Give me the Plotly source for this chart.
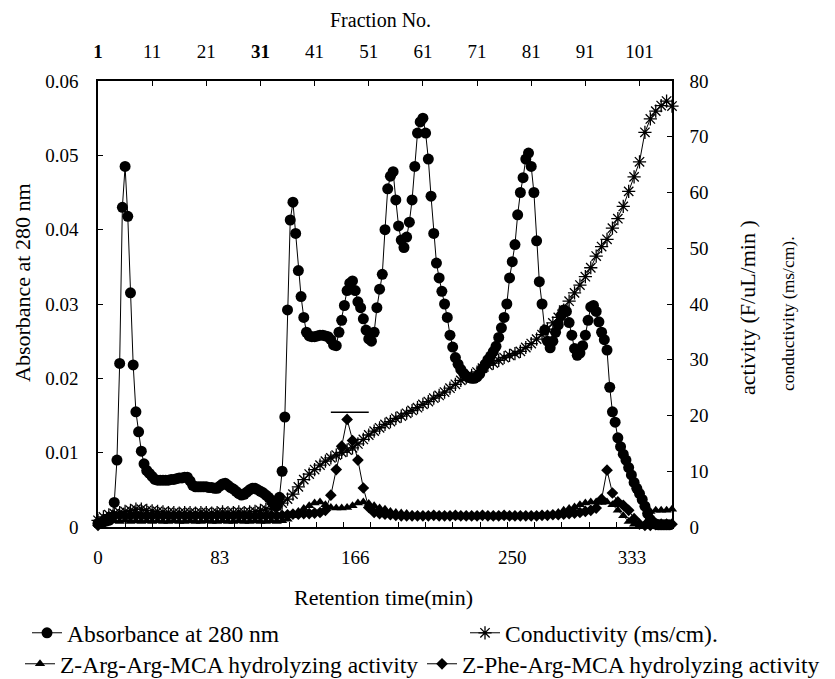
import numpy as np
import plotly.graph_objects as go

# ---------------- data ----------------
fraction_range = [1, 107]

# absorbance samples every half fraction
abs_x = np.arange(1, 107, 0.5)
absorbance = [
    0.0005, 0.0006, 0.0007, 0.0008, 0.0009, 0.0013, 0.0033, 0.0090, 0.0220, 0.0430,
    0.0485, 0.0418, 0.0315, 0.0218, 0.0155, 0.0128, 0.0102, 0.0085, 0.0076, 0.0072,
    0.0068, 0.0064, 0.0063, 0.0063, 0.0063, 0.0063, 0.0063, 0.0064, 0.0064, 0.0065,
    0.0066, 0.0066, 0.0067, 0.0067, 0.0062, 0.0056, 0.0054, 0.0054, 0.0054, 0.0054,
    0.0054, 0.0053, 0.0053, 0.0052, 0.0052, 0.0055, 0.0058, 0.0059, 0.0056, 0.0053,
    0.0051, 0.0048, 0.0045, 0.0043, 0.0044, 0.0047, 0.0050, 0.0052, 0.0052, 0.0050,
    0.0048, 0.0046, 0.0043, 0.0040, 0.0036, 0.0032, 0.0028, 0.0040, 0.0075, 0.0148,
    0.0292, 0.0413, 0.0437, 0.0395, 0.0345, 0.0310, 0.0282, 0.0262, 0.0257, 0.0256,
    0.0256, 0.0257, 0.0258, 0.0258, 0.0257, 0.0256, 0.0252, 0.0245, 0.0244, 0.0262,
    0.0278, 0.0298, 0.0318, 0.0328, 0.0331, 0.0318, 0.0303, 0.0295, 0.0280, 0.0265,
    0.0253, 0.0250, 0.0262, 0.0295, 0.0320, 0.0340, 0.0400, 0.0455, 0.0472, 0.0478,
    0.0440, 0.0405, 0.0386, 0.0376, 0.0390, 0.0410, 0.0440, 0.0485, 0.0530, 0.0545,
    0.0550, 0.0530, 0.0495, 0.0445, 0.0395, 0.0355, 0.0335, 0.0317, 0.0300, 0.0282,
    0.0258, 0.0242, 0.0228, 0.0219, 0.0212, 0.0207, 0.0203, 0.0201, 0.0200, 0.0200,
    0.0202, 0.0206, 0.0213, 0.0219, 0.0225, 0.0230, 0.0236, 0.0243, 0.0255, 0.0268,
    0.0282, 0.0300, 0.0335, 0.0357, 0.0380, 0.0420, 0.0450, 0.0470, 0.0495, 0.0503,
    0.0485, 0.0450, 0.0385, 0.0330, 0.0300, 0.0265, 0.0250, 0.0241, 0.0250, 0.0262,
    0.0272, 0.0284, 0.0292, 0.0290, 0.0275, 0.0258, 0.0240, 0.0231, 0.0234, 0.0244,
    0.0258, 0.0278, 0.0296, 0.0298, 0.0290, 0.0276, 0.0262, 0.0252, 0.0238, 0.0188,
    0.0155, 0.0141, 0.0120, 0.0108, 0.0098, 0.0090, 0.0080, 0.0070, 0.0060, 0.0052,
    0.0045, 0.0037, 0.0028, 0.0018, 0.0010, 0.0006, 0.0004, 0.0003, 0.0003, 0.0003,
    0.0003, 0.0003,
]

# one sample per fraction for conductivity and activities
fractions = np.arange(1, 108)
conductivity = [
    1.2, 1.8, 2.2, 2.4, 2.6, 2.8, 3.0, 3.2, 3.2, 3.0,
    2.9, 2.8, 2.7, 2.6, 2.6, 2.5, 2.6, 2.6, 2.5, 2.6,
    2.6, 2.5, 2.6, 2.7, 2.6, 2.6, 2.7, 2.6, 2.7, 2.8,
    3.0, 3.2, 3.4, 3.8, 4.3, 5.0, 5.9, 7.2, 8.5, 9.5,
    10.3, 11.1, 11.8, 12.4, 12.9, 13.4, 13.8, 14.2, 14.9, 15.7,
    16.5, 17.2, 17.8, 18.4, 18.9, 19.5, 19.9, 20.4, 20.9, 21.4,
    22.0, 22.5, 23.1, 23.6, 24.2, 24.9, 25.6, 26.3, 26.8, 27.2,
    27.8, 28.5, 29.0, 29.4, 29.9, 30.4, 30.8, 31.1, 31.5, 32.2,
    32.9, 33.7, 34.5, 35.5, 36.6, 37.6, 38.9, 40.5, 42.0, 43.4,
    44.9, 46.5, 48.6, 50.3, 51.6, 53.6, 55.3, 57.5, 60.2, 62.8,
    65.5, 70.8, 73.2, 74.6, 75.6, 76.4, 75.5,
]
arg_arg_activity = [
    0.5, 0.8, 1.0, 1.1, 1.0, 1.2, 1.0, 1.1, 1.0, 1.1,
    1.0, 1.1, 1.0, 1.0, 1.1, 1.0, 1.0, 1.1, 1.0, 1.0,
    1.1, 1.0, 1.0, 1.1, 1.0, 1.0, 1.1, 1.0, 1.0, 1.1,
    1.0, 1.0, 1.1, 1.0, 1.1, 1.4, 2.0, 2.8, 3.3, 3.8,
    4.3, 4.5, 4.0, 3.5, 3.4, 3.4, 3.5, 3.8, 4.3, 4.5,
    4.2, 3.8, 3.4, 3.2, 2.8, 2.6, 2.5, 2.4, 2.2, 2.1,
    2.0, 2.0, 1.9, 1.9, 2.0, 1.9, 1.8, 1.8, 1.9, 1.8,
    1.8, 1.9, 2.0, 1.8, 1.8, 1.9, 1.8, 1.8, 1.9, 2.0,
    2.0, 1.9, 2.0, 2.1, 2.3, 2.6, 3.0, 3.3, 3.6, 4.0,
    4.3, 4.5, 4.5, 4.4, 4.5, 4.0, 3.0, 2.0, 1.0, 0.5,
    0.3, 0.5, 2.8, 3.0, 3.0, 3.0, 3.2,
]
phe_arg_activity = [
    0.3, 0.8, 1.8, 2.0, 2.1, 2.0, 2.0, 2.1, 2.0, 2.0,
    2.0, 2.1, 2.0, 2.0, 2.0, 2.1, 2.0, 2.0, 2.0, 2.1,
    2.0, 2.0, 2.1, 2.0, 2.0, 2.0, 2.1, 2.0, 2.0, 2.0,
    2.0, 2.0, 2.1, 2.0, 2.1, 2.2, 2.3, 2.3, 2.4, 2.4,
    2.5, 2.6, 3.0, 5.7, 10.3, 14.5, 19.3, 15.5, 12.0, 7.0,
    3.5, 2.6, 2.4, 2.3, 2.2, 2.1, 2.0, 2.0, 2.0, 2.0,
    2.0, 2.0, 2.1, 2.0, 2.0, 2.0, 2.1, 2.0, 2.0, 2.0,
    2.0, 2.1, 2.0, 2.0, 2.0, 2.1, 2.0, 2.0, 2.0, 2.0,
    2.0, 2.0, 2.1, 2.1, 2.2, 2.2, 2.3, 2.4, 2.5, 2.6,
    2.8, 3.0, 3.4, 5.0, 10.2, 6.1, 4.5, 3.9, 3.0, 1.5,
    0.5, 0.3, 0.3, 0.4, 0.5, 0.5, 0.5,
]

top_tick_fractions = [1, 11, 21, 31, 41, 51, 61, 71, 81, 91, 101]
top_tick_text = ["<b>1</b>", "11", "21", "<b>31</b>", "41", "51", "61", "71", "81", "91", "101"]
bottom_label_fractions = [1, 23.5, 48.5, 77.5, 99.6]
bottom_label_text = ["0", "83", "166", "250", "333"]
pooled_fractions = [44, 51]
pooled_activity_level = 20.6

# ---------------- layout helpers ----------------
W, H = 835, 679
L, R, T, B = 98, 672, 81, 527
FONT = "Liberation Serif"


def px(xp):
    return (xp - L) / (R - L)


def py(yp):
    return (B - yp) / (B - T)


fig = go.Figure()

fig.add_trace(go.Scatter(
    x=fractions, y=arg_arg_activity, name="Z-Arg-Arg-MCA hydrolyzing activity",
    mode="lines+markers", xaxis="x", yaxis="y", legend="legend3", cliponaxis=False,
    line=dict(color="black", width=1),
    marker=dict(symbol="triangle-up", size=9, color="black"),
))
fig.add_trace(go.Scatter(
    x=fractions, y=phe_arg_activity, name="Z-Phe-Arg-MCA hydrolyzing activity",
    mode="lines+markers", xaxis="x", yaxis="y", legend="legend4", cliponaxis=False,
    line=dict(color="black", width=1),
    marker=dict(symbol="diamond", size=9, color="black"),
))
fig.add_trace(go.Scatter(
    x=fractions, y=conductivity, name="Conductivity (ms/cm).",
    mode="lines+markers", xaxis="x", yaxis="y", legend="legend2", cliponaxis=False,
    line=dict(color="black", width=1),
    marker=dict(symbol="asterisk-open", size=11, color="black",
                line=dict(color="black", width=1.3)),
))
fig.add_trace(go.Scatter(
    x=abs_x, y=absorbance, name="Absorbance at 280 nm",
    mode="lines+markers", xaxis="x2", yaxis="y2", legend="legend", cliponaxis=False,
    line=dict(color="black", width=1),
    marker=dict(symbol="circle", size=11, color="black"),
))

fig.add_shape(type="line", xref="x", yref="y",
              x0=pooled_fractions[0], x1=pooled_fractions[1],
              y0=pooled_activity_level, y1=pooled_activity_level,
              line=dict(color="black", width=1.5))

axis_common = dict(showgrid=False, zeroline=False, showline=True, linecolor="black",
                   linewidth=1.5, tickcolor="black", tickfont=dict(family=FONT, size=19, color="black"))

legend_common = dict(bgcolor="rgba(0,0,0,0)", borderwidth=0, xanchor="left", yanchor="middle",
                     font=dict(family=FONT, size=23.5, color="black"), itemwidth=30)

fig.update_layout(
    width=W, height=H, autosize=False,
    margin=dict(l=L, r=W - R, t=T, b=H - B, autoexpand=False),
    paper_bgcolor="white", plot_bgcolor="white",
    font=dict(family=FONT, color="black"),
    xaxis=dict(**axis_common, range=fraction_range, anchor="y", side="bottom",
               tickmode="array", tickvals=bottom_label_fractions, ticktext=bottom_label_text,
               ticks="", ticklabelstandoff=12, layer="below traces",
               minor=dict(ticks="inside", ticklen=5, tickcolor="black", tickmode="linear",
                          tick0=1, dtick=5.04)),
    xaxis2=dict(**axis_common, range=fraction_range, overlaying="x", anchor="y", side="top",
                tickmode="array", tickvals=top_tick_fractions, ticktext=top_tick_text,
                ticks="inside", ticklen=5, ticklabelstandoff=14, layer="below traces"),
    yaxis=dict(**axis_common, range=[0, 80], side="right", anchor="x",
               tickmode="linear", tick0=0, dtick=10, ticks="inside", ticklen=5,
               ticklabelstandoff=12, layer="below traces"),
    yaxis2=dict(**axis_common, range=[0, 0.06], overlaying="y", side="left", anchor="x",
                tickmode="linear", tick0=0, dtick=0.01, ticks="inside", ticklen=5,
                ticklabelstandoff=14, layer="below traces"),
    legend=dict(**legend_common, x=px(27), y=py(633)),
    legend2=dict(**legend_common, x=px(465), y=py(633)),
    legend3=dict(**legend_common, x=px(20), y=py(664)),
    legend4=dict(**legend_common, x=px(422), y=py(664)),
    showlegend=True,
)

annotations = [
    dict(text="Fraction No.", x=px(380), y=py(20), font=dict(size=20)),
    dict(text="Retention time(min)", x=px(383), y=py(597), font=dict(size=22)),
    dict(text="Absorbance at 280 nm", x=px(22), y=py(283), textangle=-90, font=dict(size=22)),
    dict(text="activity (F/uL/min )", x=px(747), y=py(308), textangle=-90, font=dict(size=22)),
    dict(text="conductivity (ms/cm).", x=px(788), y=py(313), textangle=-90, font=dict(size=17.5)),
]
for a in annotations:
    a.update(xref="paper", yref="paper", showarrow=False, xanchor="center", yanchor="middle")
    a["font"] = dict(family=FONT, color="black", **a["font"])
fig.update_layout(annotations=annotations)

fig.write_html("out.html")
